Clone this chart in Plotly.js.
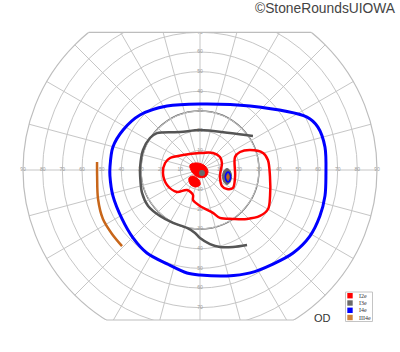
<!DOCTYPE html>
<html><head><meta charset="utf-8">
<script src="https://cdn.plot.ly/plotly-3.0.1.min.js"></script>
<style>html,body{margin:0;padding:0;overflow:hidden;background:#fff;width:400px;height:352px}
#chart{position:absolute;left:0;top:-11px;width:400px;height:362px}</style>
</head><body><div id="chart"></div>
<script>
// ---- data (theta in degrees, r in degrees of visual field) ----
const BLUE_THETA = [90, 52, 26.3, 20, 10.4, -2.7, -11.7, -21, -31, -41.7, -52.2, -64, -75.7, -90, -97.2, -109.3, -122.6, -134.6, -147.9, -163.4, -176.2, 178.1, 165.2, 152.5, 137.5, 117.3, 90];
const BLUE_R     = [33.6, 41.3, 60.7, 63.8, 64.6, 64.1, 64.9, 65.3, 65.2, 63.4, 60.5, 58.2, 55.6, 53.4, 52.8, 50.6, 50.1, 48.5, 46.8, 46.2, 45.9, 45.8, 45.8, 44.1, 41.4, 36.6, 33.6];

const GRAY_THETA = [32.7, 51, 90, 117.8, 139.3, 147.4, 160.7, 177, -174.3, -158.4, -145.3, -131, -117, -102.6, -94.5, -90, -82.3, -75.4, -66.8, -57.9];
const GRAY_R     = [32, 24.2, 20.3, 21.8, 28.8, 30.2, 30.7, 30.5, 30.6, 31.7, 32.1, 31, 30.2, 30.2, 32.1, 34.6, 38, 40.5, 42.6, 45];

const ORANGE_THETA = [175.6, -176.7, -164.1, -153.2, -144, -135.7];
const ORANGE_R     = [52.5, 52.4, 53.9, 55.3, 55.3, 55.4];

const RED_THETA = [168.7, 158.2, 138.6, 90, 52.6, 33, 17.7, -16.7, -36, -35.1, -28.6, -9.7, 20.4, 24.2, 21.8, 15.1, 8.4, -4.9, -20.4, -29.8, -37.5, -46.2, -56, -67.4, -73.2, -90, -103.1, -105.6, -123, -136.3, -155.6, -175.4, 168.7];
const RED_R     = [18.1, 16.4, 11.5, 8.6, 10.9, 12.1, 11.7, 10.6, 13.8, 16.8, 19.1, 18.1, 19, 22.3, 27.4, 33.2, 34.9, 35.7, 38, 39.9, 38.4, 34.5, 30, 26.4, 22.8, 18.3, 15.7, 13.2, 12.1, 16.2, 18.4, 18.9, 18.1];

const RED_SPOT1_THETA = [153, 113, 38.7, -14, -54.5, -106, -166, 153];
const RED_SPOT1_R     = [5.7, 3.9, 3.3, 4.2, 4.4, 3.7, 4.2, 5.7];
const RED_SPOT2_THETA = [-144, -139.4, -95.7, -90, -106.4, -125.5, -144];
const RED_SPOT2_R     = [6.9, 4.7, 5.1, 7.6, 9, 8.7, 6.9];

const GRAY_DOT_THETA = [-56.3];
const GRAY_DOT_R     = [1.8];

const SCOT_GRAY_THETA = [3.2, -1.9, -11.7, -21.7, -28.2, -26.8, -16.1, -2.4, 3.2];
const SCOT_GRAY_R     = [13.75, 15.4, 16.4, 16.5, 15.6, 13.6, 11.9, 12.1, 13.75];
const SCOT_BLUE_THETA = [-4.1, -7.6, -12.9, -18.4, -23.2, -21, -15.4, -8.7, -4.1];
const SCOT_BLUE_R     = [14.3, 15.4, 15.9, 16.1, 15.5, 14.2, 13.4, 13.4, 14.3];
const SCOT_ORANGE_THETA = [-9.1, -13.4, -18.7, -14.7, -9.1];
const SCOT_ORANGE_R     = [14.4, 15.3, 15, 14, 14.4];

const TICKS_H = [10, 20, 30, 40, 50, 60, 70, 80, 90];
const TICKS_V = [10, 20, 30, 40, 50, 60, 70];

const LEGEND_NAMES  = ['I2e', 'I3e', 'I4e', 'III4e'];
const LEGEND_COLORS = ['#ff0000', '#6a6a6a', '#0000ff', '#d0823a'];

// ---- styles ----
const C_RED = '#ff0000', C_BLUE = '#0000ff', C_GRAY = '#555555', C_ORANGE = '#c8661a';

function line(theta, r, color, width) {
  return {type: 'scatterpolar', mode: 'lines', theta: theta, r: r, showlegend: false,
          hoverinfo: 'skip', line: {color: color, width: width, shape: 'spline', smoothing: 0.9}};
}
function blob(theta, r, color, lw, lc) {
  return {type: 'scatterpolar', mode: 'lines', theta: theta, r: r, showlegend: false,
          hoverinfo: 'skip', fill: 'toself', fillcolor: color,
          line: {color: lc || color, width: lw, shape: 'spline', smoothing: 1}};
}

const tickR = [], tickT = [], tickTxt = [];
TICKS_H.forEach(v => { tickR.push(v); tickT.push(0); tickTxt.push(String(v)); });
TICKS_H.forEach(v => { tickR.push(v); tickT.push(180); tickTxt.push(String(v)); });
TICKS_V.forEach(v => { tickR.push(v); tickT.push(90); tickTxt.push(String(v)); });
TICKS_V.forEach(v => { tickR.push(v); tickT.push(270); tickTxt.push(String(v)); });

const traces = [
  {type: 'scatterpolar', mode: 'text', r: tickR, theta: tickT, text: tickTxt, showlegend: false,
   hoverinfo: 'skip', textfont: {size: 5, color: '#9a9a9a', family: 'Liberation Sans, Arial'}},
  line(BLUE_THETA, BLUE_R, C_BLUE, 3),
  line(GRAY_THETA, GRAY_R, C_GRAY, 2.5),
  line(ORANGE_THETA, ORANGE_R, C_ORANGE, 2.5),
  line(RED_THETA, RED_R, C_RED, 2.5),
  blob(RED_SPOT1_THETA, RED_SPOT1_R, C_RED, 1),
  blob(RED_SPOT2_THETA, RED_SPOT2_R, C_RED, 1),
  blob(SCOT_GRAY_THETA, SCOT_GRAY_R, '#666666', 1),
  {type: 'scatterpolar', mode: 'lines', theta: SCOT_BLUE_THETA, r: SCOT_BLUE_R, showlegend: false,
   hoverinfo: 'skip', line: {color: C_BLUE, width: 1.6, shape: 'spline', smoothing: 1}},
  blob(SCOT_ORANGE_THETA, SCOT_ORANGE_R, C_ORANGE, 0.5),
  {type: 'scatterpolar', mode: 'markers', theta: GRAY_DOT_THETA, r: GRAY_DOT_R, showlegend: false,
   hoverinfo: 'skip', marker: {color: '#6a6a6a', size: 6}}
];

// pixel (window) -> paper helpers for layout decorations
const PX = X => X / 400;
const PY = Y => (347 - Y) / 354;

const shapes = [
  // emphasised 30 degree ring
  {type: 'circle', xref: 'paper', yref: 'paper', layer: 'below',
   x0: 0.5 - 0.4425 / 3, x1: 0.5 + 0.4425 / 3, y0: 0.5 - 0.5 / 3, y1: 0.5 + 0.5 / 3,
   line: {color: '#6a6a6a', width: 1.4}},
  // clip top and bottom of the chart
  {type: 'rect', xref: 'paper', yref: 'paper', layer: 'above', x0: -0.1, x1: 1.1, y0: 0.8889, y1: 1.2,
   fillcolor: '#ffffff', line: {width: 0}},
  {type: 'rect', xref: 'paper', yref: 'paper', layer: 'above', x0: -0.1, x1: 1.1, y0: -0.2, y1: 0.0763,
   fillcolor: '#ffffff', line: {width: 0}},
  {type: 'line', xref: 'paper', yref: 'paper', layer: 'above', x0: 0.2217, x1: 0.7783, y0: 0.8889, y1: 0.8889,
   line: {color: '#bdbdbd', width: 1.2}},
  {type: 'line', xref: 'paper', yref: 'paper', layer: 'above', x0: 0.2654, x1: 0.7346, y0: 0.0763, y1: 0.0763,
   line: {color: '#bdbdbd', width: 1.2}},
  // legend box
  {type: 'rect', xref: 'paper', yref: 'paper', layer: 'above', x0: PX(345.5), x1: PX(372.5), y0: PY(321.5), y1: PY(292),
   fillcolor: '#ffffff', line: {color: '#c4c4c4', width: 1}}
];
const annotations = [
  {xref: 'paper', yref: 'paper', x: PX(398), y: PY(8), xanchor: 'right', yanchor: 'middle', showarrow: false,
   text: '©StoneRoundsUIOWA', font: {family: 'Liberation Sans, Arial', size: 13.8, color: '#444'}},
  {xref: 'paper', yref: 'paper', x: PX(322), y: PY(318), xanchor: 'center', yanchor: 'middle', showarrow: false,
   text: 'OD', font: {family: 'Liberation Sans, Arial', size: 11, color: '#333'}}
];
const LEG_Y = [295.7, 303, 310.3, 317.5];
LEGEND_NAMES.forEach((n, i) => {
  shapes.push({type: 'rect', xref: 'paper', yref: 'paper', layer: 'above',
    x0: PX(347.3), x1: PX(352.7), y0: PY(LEG_Y[i] + 2.7), y1: PY(LEG_Y[i] - 2.7),
    fillcolor: LEGEND_COLORS[i], line: {width: 0}});
  annotations.push({xref: 'paper', yref: 'paper', x: PX(356.5), y: PY(LEG_Y[i]), xanchor: 'left', yanchor: 'middle',
    showarrow: false, text: n, font: {family: 'Liberation Serif, Times New Roman', size: 6, color: '#333'}});
});

const layout = {
  width: 400, height: 362,
  margin: {l: 0, r: 0, t: 4, b: 4, pad: 0},
  paper_bgcolor: '#ffffff',
  showlegend: false,
  polar: {
    domain: {x: [0, 1], y: [0, 1]},
    bgcolor: 'rgba(0,0,0,0)',
    radialaxis: {range: [0, 90], tickvals: [10, 20, 30, 40, 50, 60, 70, 80, 90], showticklabels: false,
                 ticks: '', showline: false, gridcolor: '#c6c6c6', gridwidth: 1},
    angularaxis: {rotation: 0, direction: 'counterclockwise', dtick: 15, showticklabels: false, ticks: '',
                  showline: true, linecolor: '#bdbdbd', linewidth: 1.2, gridcolor: '#c6c6c6', gridwidth: 1}
  },
  shapes: shapes,
  annotations: annotations
};

Plotly.newPlot('chart', traces, layout, {staticPlot: true, displayModeBar: false});
</script></body></html>
